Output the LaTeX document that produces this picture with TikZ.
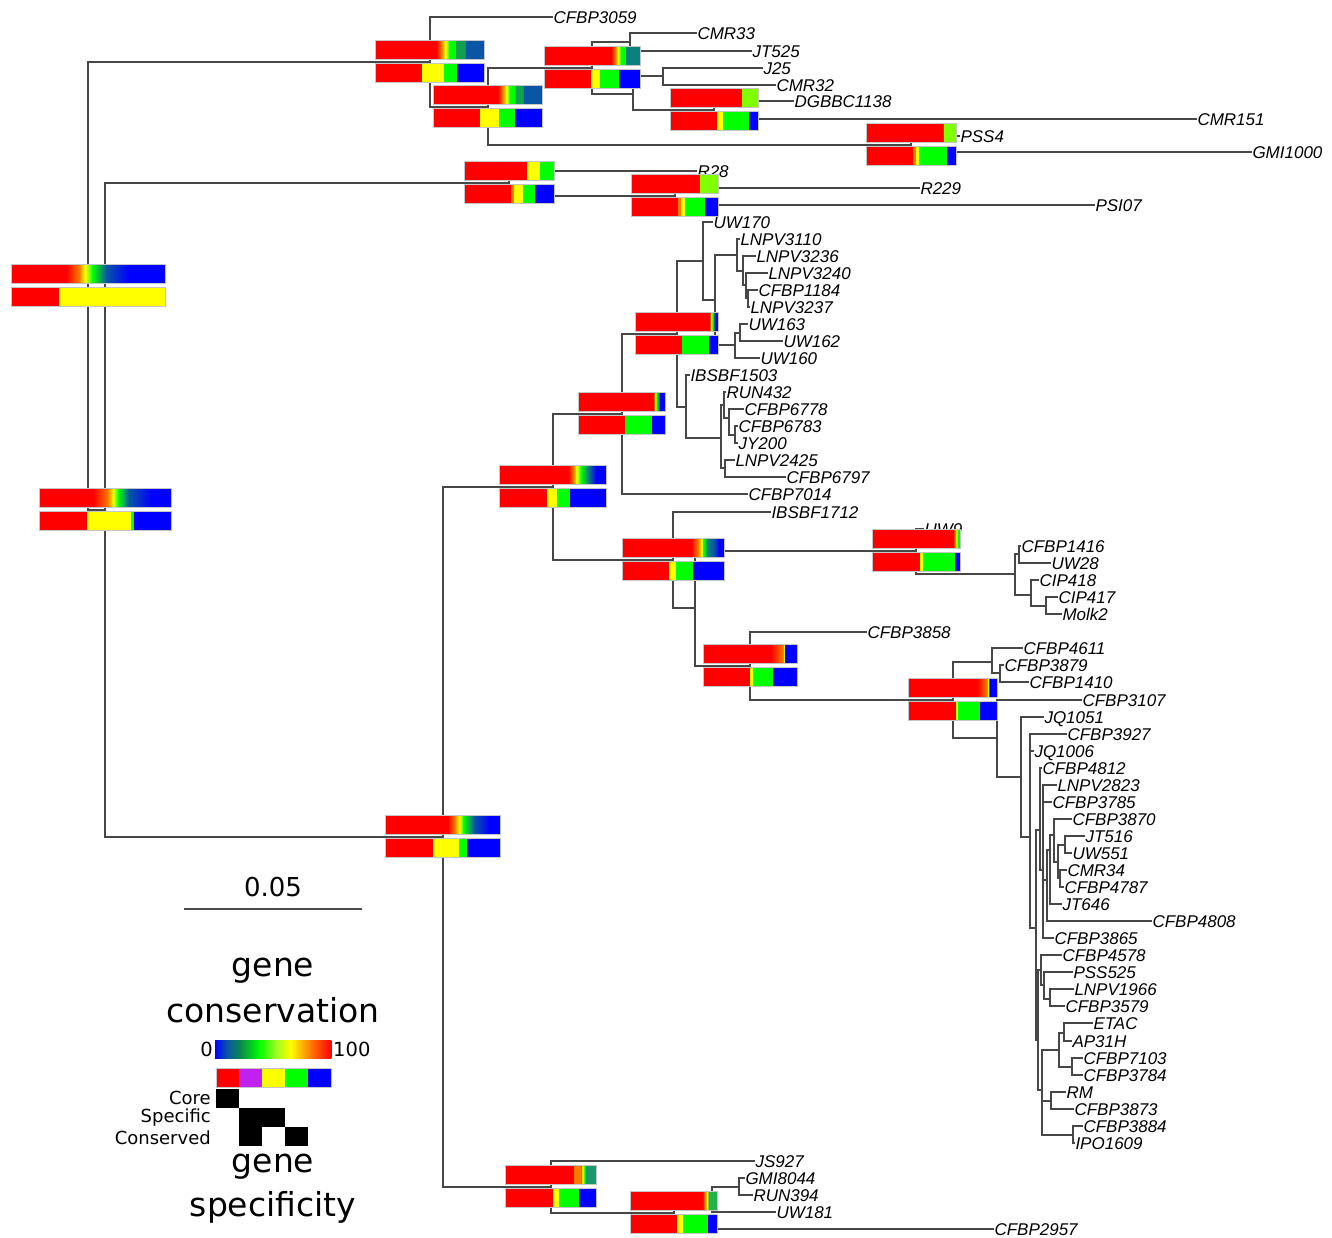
\documentclass[tikz,border=0pt]{standalone}
\usepackage{fontspec}
\usepackage{xcolor}
\usepackage{tikz}
\newfontfamily\treefont{Liberation Sans}
\newfontfamily\keyfont{DejaVu Sans}

\definecolor{cRed}{HTML}{FF0000}
\definecolor{cOra}{HTML}{FF7A00}
\definecolor{cYel}{HTML}{FFFF00}
\definecolor{cGrn}{HTML}{00FF00}
\definecolor{cLim}{HTML}{80FF00}
\definecolor{cBlu}{HTML}{0000FF}
\definecolor{cDkb}{HTML}{0A55A5}
\definecolor{cDkg}{HTML}{10A050}
\definecolor{cTea}{HTML}{0A8080}
\definecolor{cKtl}{HTML}{1A9A6C}
\definecolor{cKgr}{HTML}{22B04A}
\definecolor{cLgn}{HTML}{0A8A4A}
\definecolor{cYgn}{HTML}{9AFF20}
\definecolor{cPur}{HTML}{C020F0}

\tikzset{
  branch/.style={line width=1.2pt, draw=black!72},
  leaf/.style={anchor=west, inner sep=0.5pt, outer sep=0pt, text height=12.2pt, text depth=0pt,
    font=\treefont\itshape\fontsize{17}{19}\selectfont},
  barframe/.style={draw=gray!45, line width=0.6pt},
  keytext/.style={inner sep=0pt, font=\keyfont\fontsize{#1}{#1}\selectfont},
}

% #1 node, #2 width, #3 conservation stops, #4 specificity blocks
\newcommand{\genebars}[4]{%
  \foreach \fr/\cc [remember=\fr as \pf (initially 0), remember=\cc as \pc (initially cRed)] in {#3}{
    \shade[left color=\pc, right color=\cc] ([shift={({-#2/2+\pf*#2},-21.5)}]#1) rectangle ([shift={({-#2/2+\fr*#2+0.3},-2.5)}]#1);
  }
  \draw[barframe] ([shift={({-#2/2},-21.5)}]#1) rectangle ([shift={({#2/2},-2.5)}]#1);
  \foreach \fr/\cc [remember=\fr as \pf (initially 0)] in {#4}{
    \fill[\cc] ([shift={({-#2/2+\pf*#2},1.5)}]#1) rectangle ([shift={({-#2/2+\fr*#2+0.3},20.5)}]#1);
  }
  \draw[barframe] ([shift={({-#2/2},1.5)}]#1) rectangle ([shift={({#2/2},20.5)}]#1);
}

\begin{document}
\begin{tikzpicture}[x=1pt, y=-1pt]
    \useasboundingbox (0,0) rectangle (1332,1237);

    % inner nodes of the tree
    \foreach \n/\lx/\ly in {root/88/286, nA/430/62, nB/488/107, nC/592/68, nC1/630/42, nC2/633/94,
        nC21/663/76, nC22/714/110, nD/911/145, nN2/105/510, nE/509/183, nG/675/196,
        nF/443/837, nJ/553/487, nI/622/414, nH/677/334, nH1/703/261, nH1b/715/300,
        nH1b1/737/255, nH1c/743/271, nH1d/746/285, nH1e/748/298, nH1b2/735/345, nH1f/740/333,
        nH2/686/407, nH3/721/438, nH4/724/405, nH6/729/418, nH7/735/435, nH5/725/468,
        nL/673/560, nM/695/608, nO/916/551, nP/1015/574, nP1/1019/554, nP2/1031/595, nP3/1046/606,
        nN/750/666, nQ/953/700, nR/992/662, nR2/1000/673, nS/997/738, nT/1021/777, nU/1030/837,
        nW/1036/928, nX/1040/830, nX2/1043/870, nX3/1047/880, nX4/1050/850, nX5/1054/835,
        nX6/1058/862, nX7/1065/845, nX8/1060/878, nY/1038/1040, nYa/1041/970, nYa1/1044/985,
        nYa2/1050/999, nYb/1042/1090, nYb1/1059/1050, nYb11/1064/1033, nYb12/1072/1067,
        nYb2/1051/1101, nYb3/1073/1135, nK/551/1187, nK2/674/1213, nK3/712/1205, nK4/739/1187}
        \coordinate (\n) at (\lx,\ly);

    % branches between inner nodes
    \foreach \a/\b in {root/nA, root/nN2, nA/nB, nB/nC, nB/nD, nC/nC1, nC/nC2, nC2/nC21, nC2/nC22,
        nN2/nE, nN2/nF, nE/nG, nF/nJ, nF/nK, nJ/nI, nJ/nL, nI/nH, nH/nH1, nH/nH2, nH1/nH1b,
        nH1b/nH1b1, nH1b/nH1b2, nH1b1/nH1c, nH1c/nH1d, nH1d/nH1e, nH1b2/nH1f, nH2/nH3, nH3/nH4,
        nH3/nH5, nH4/nH6, nH6/nH7, nL/nM, nM/nO, nM/nN, nO/nP, nP/nP1, nP/nP2, nP2/nP3,
        nN/nQ, nQ/nR, nQ/nS, nR/nR2, nS/nT, nT/nU, nU/nW, nW/nX, nW/nY, nX/nX2, nX2/nX3,
        nX3/nX4, nX4/nX5, nX5/nX6, nX6/nX7, nX6/nX8, nY/nYa, nY/nYb, nYa/nYa1, nYa1/nYa2,
        nYb/nYb1, nYb/nYb2, nYb/nYb3, nYb1/nYb11, nYb1/nYb12, nK/nK2, nK2/nK3, nK3/nK4}
        \draw[branch] (\a) |- (\b);

    % strains
    \foreach \lbl/\up/\lx/\ly in {CFBP3059/nA/553/17, CMR33/nC1/697/33, JT525/nC1/752/51,
        J25/nC21/763/68, CMR32/nC21/776/85, DGBBC1138/nC22/794/101, CMR151/nC22/1197/119,
        PSS4/nD/960/136, GMI1000/nD/1252/152, R28/nE/697/171, R229/nG/920/188, PSI07/nG/1095/205,
        UW170/nH1/713/222, LNPV3110/nH1b1/740/239, LNPV3236/nH1c/756/256, LNPV3240/nH1d/768/273,
        CFBP1184/nH1e/758/290, LNPV3237/nH1e/750/307, UW163/nH1f/748/324, UW162/nH1f/783/341,
        UW160/nH1b2/760/358, IBSBF1503/nH2/690/375, RUN432/nH4/726/392, CFBP6778/nH6/744/409,
        CFBP6783/nH7/738/426, JY200/nH7/738/443, LNPV2425/nH5/735/460, CFBP6797/nH5/786/477,
        CFBP7014/nI/748/494, IBSBF1712/nL/771/512, UW9/nO/924/529, CFBP1416/nP1/1021/546,
        UW28/nP1/1051/563, CIP418/nP2/1039/580, CIP417/nP3/1058/597, Molk2/nP3/1062/614,
        CFBP3858/nN/867/632, CFBP4611/nR/1023/648, CFBP3879/nR2/1004/665, CFBP1410/nR2/1029/682,
        CFBP3107/nS/1082/700, JQ1051/nT/1044/717, CFBP3927/nU/1067/734, JQ1006/nU/1034/751,
        CFBP4812/nX/1042/768, LNPV2823/nX2/1057/785, CFBP3785/nX2/1052/802, CFBP3870/nX5/1072/819,
        JT516/nX7/1085/836, UW551/nX7/1072/853, CMR34/nX8/1067/870, CFBP4787/nX8/1064/887,
        JT646/nX4/1062/904, CFBP4808/nX3/1152/921, CFBP3865/nX2/1054/938, CFBP4578/nYa/1062/955,
        PSS525/nYa1/1073/972, LNPV1966/nYa2/1074/989, CFBP3579/nYa2/1065/1006, ETAC/nYb11/1093/1023,
        AP31H/nYb11/1072/1041, CFBP7103/nYb12/1083/1058, CFBP3784/nYb12/1083/1075, RM/nYb2/1066/1092,
        CFBP3873/nYb2/1074/1109, CFBP3884/nYb3/1083/1126, IPO1609/nYb3/1075/1143,
        JS927/nK/755/1161, GMI8044/nK4/745/1178, RUN394/nK4/753/1195, UW181/nK3/776/1212,
        CFBP2957/nK2/994/1229}
    {
        \node[leaf] (\lbl) at (\lx,\ly) {\lbl};
        \draw[branch] (\up) |- (\lbl.west);
    }

    % gene bars on the inner nodes
    \genebars{root}{154}{0.36/cRed, 0.44/cOra, 0.48/cYel, 0.53/cGrn, 0.62/cDkb, 0.76/cBlu, 1/cBlu}{0.31/cRed, 1/cYel}
    \genebars{nA}{109}{0.56/cRed, 0.6/cOra, 0.64/cYel, 0.68/cGrn, 0.73/cGrn, 0.74/cDkg, 0.82/cDkg, 0.83/cDkb, 1/cDkb}{0.43/cRed, 0.63/cYel, 0.75/cGrn, 1/cBlu}
    \genebars{nB}{109}{0.59/cRed, 0.63/cOra, 0.67/cYel, 0.7/cGrn, 0.745/cGrn, 0.755/cDkg, 0.82/cDkg, 0.83/cDkb, 1/cDkb}{0.43/cRed, 0.6/cYel, 0.75/cGrn, 1/cBlu}
    \genebars{nC}{96}{0.7/cRed, 0.74/cOra, 0.77/cYel, 0.8/cGrn, 0.845/cGrn, 0.855/cTea, 1/cTea}{0.49/cRed, 0.58/cYel, 0.78/cGrn, 1/cBlu}
    \genebars{nC22}{88}{0.815/cRed, 0.825/cLim, 1/cLim}{0.53/cRed, 0.6/cYel, 0.9/cGrn, 1/cBlu}
    \genebars{nD}{90}{0.855/cRed, 0.865/cLim, 1/cLim}{0.52/cRed, 0.55/cOra, 0.59/cYel, 0.9/cGrn, 1/cBlu}
    \genebars{nN2}{132}{0.41/cRed, 0.52/cOra, 0.56/cYel, 0.6/cGrn, 0.68/cDkb, 0.85/cBlu, 1/cBlu}{0.36/cRed, 0.7/cYel, 0.72/cGrn, 1/cBlu}
    \genebars{nE}{90}{0.69/cRed, 0.7/cYel, 0.84/cYel, 0.85/cGrn, 1/cGrn}{0.52/cRed, 0.56/cOra, 0.65/cYel, 0.79/cGrn, 1/cBlu}
    \genebars{nG}{87}{0.785/cRed, 0.795/cLim, 1/cLim}{0.54/cRed, 0.57/cOra, 0.62/cYel, 0.85/cGrn, 1/cBlu}
    \genebars{nF}{115}{0.54/cRed, 0.6/cOra, 0.64/cYel, 0.68/cGrn, 0.77/cDkb, 0.9/cBlu, 1/cBlu}{0.41/cRed, 0.64/cYel, 0.71/cGrn, 1/cBlu}
    \genebars{nJ}{107}{0.64/cRed, 0.69/cOra, 0.72/cYel, 0.76/cGrn, 0.85/cDkb, 0.9/cBlu, 1/cBlu}{0.44/cRed, 0.54/cYel, 0.66/cGrn, 1/cBlu}
    \genebars{nI}{87}{0.86/cRed, 0.88/cYel, 0.9/cGrn, 0.93/cDkb, 0.94/cBlu, 1/cBlu}{0.54/cRed, 0.85/cGrn, 1/cBlu}
    \genebars{nH}{83}{0.89/cRed, 0.91/cYel, 0.93/cGrn, 0.95/cDkb, 0.96/cBlu, 1/cBlu}{0.56/cRed, 0.89/cGrn, 1/cBlu}
    \genebars{nL}{102}{0.68/cRed, 0.74/cOra, 0.78/cYel, 0.8/cGrn, 0.84/cTea, 0.9/cDkb, 0.95/cBlu, 1/cBlu}{0.46/cRed, 0.53/cYel, 0.7/cGrn, 1/cBlu}
    \genebars{nO}{88}{0.92/cRed, 0.94/cOra, 0.96/cYel, 0.975/cGrn, 1/cGrn}{0.55/cRed, 0.58/cYel, 0.94/cGrn, 1/cBlu}
    \genebars{nN}{94}{0.72/cRed, 0.85/cOra, 0.86/cYel, 0.87/cTea, 0.88/cBlu, 1/cBlu}{0.5/cRed, 0.53/cYel, 0.74/cGrn, 1/cBlu}
    \genebars{nQ}{89}{0.77/cRed, 0.88/cOra, 0.895/cYel, 0.905/cTea, 0.915/cBlu, 1/cBlu}{0.53/cRed, 0.56/cYel, 0.8/cGrn, 1/cBlu}
    \genebars{nK}{91}{0.75/cRed, 0.755/cOra, 0.835/cOra, 0.845/cYel, 0.87/cGrn, 0.885/cKtl, 1/cKtl}{0.52/cRed, 0.59/cYel, 0.81/cGrn, 1/cBlu}
    \genebars{nK2}{87}{0.83/cRed, 0.85/cOra, 0.88/cYel, 0.9/cKgr, 1/cKgr}{0.54/cRed, 0.6/cYel, 0.89/cGrn, 1/cBlu}

    % scale bar
    \node[keytext=26] (scale) at (273,887) {0.05};
    \draw[line width=1.2pt, black!70] (184,909) -- (362,909);

    % legend
    \node[keytext=33] (gene1) at (273,971) {gene};
    \node[keytext=33] (cons) at (273,1010) {conservation};
    \foreach \fr/\cc [remember=\fr as \pf (initially 0), remember=\cc as \pc (initially cBlu)] in
        {0.1/cDkb, 0.22/cLgn, 0.38/cGrn, 0.52/cYgn, 0.65/cYel, 0.82/cOra, 1/cRed}
        \shade[left color=\pc, right color=\cc] ({215+\pf*116},1040) rectangle ({215+\fr*116+0.3},1058);
    \node[keytext=19.5, anchor=east] (zero) at (213,1049) {0};
    \node[keytext=19.5, anchor=west] (hundred) at (333,1049) {100};
    \foreach \cc [count=\i from 0] in {cRed, cPur, cYel, cGrn, cBlu}
        \fill[\cc] ({216+\i*23},1068) rectangle ++(23,19);
    \draw[barframe] (216,1068) rectangle (331,1087);
    \fill (216,1089) rectangle ++(23,19);
    \fill (239,1108) rectangle ++(46,19);
    \fill (239,1127) rectangle ++(23,19);
    \fill (285,1127) rectangle ++(23,19);
    \node[keytext=18, anchor=east] (core) at (211,1098) {Core};
    \node[keytext=18, anchor=east] (spec) at (211,1118) {Specific};
    \node[keytext=18, anchor=east] (consv) at (211,1138) {Conserved};
    \node[keytext=33] (gene2) at (273,1167) {gene};
    \node[keytext=33] (specif) at (273,1207) {specificity};
\end{tikzpicture}
\end{document}
